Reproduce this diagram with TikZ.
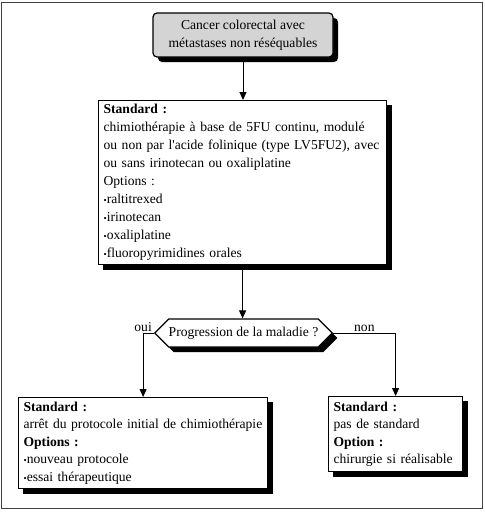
\documentclass[tikz,border=0pt]{standalone}
\usepackage{fontspec}
\setmainfont{Liberation Serif}
\usetikzlibrary{arrows.meta,shadows,shapes.symbols}
\newcommand{\bul}{{\fontsize{9}{9}\selectfont\textbullet}}
\begin{document}
\begin{tikzpicture}[x=1pt,y=-1pt,
  txt/.style={font=\fontsize{13.6}{18}\selectfont},
  txtb/.style={font=\fontsize{13.6}{17.4}\selectfont},
  shad/.style={drop shadow={shadow xshift=5pt,shadow yshift=-5pt,fill=black,opacity=1}},
  box/.style={draw=black,line width=1.2pt,fill=white,anchor=north west,align=left,
    inner xsep=5pt,inner ysep=1pt},
  shbox/.style={fill=black,draw=none,anchor=north west,inner sep=0pt,outer sep=0pt},
  arr/.style={line width=1pt,-{Triangle[length=8pt,width=7pt]}},
  lbl/.style={txt,inner sep=1pt}]
\useasboundingbox (0,0) rectangle (485,512);
\draw[line width=1.5pt,draw=black!75] (1.5,2.5) rectangle (482.5,508.5);
\node[txt,draw=black,line width=1.2pt,fill={rgb,255:red,212;green,212;blue,212},
  rounded corners=4pt,minimum width=180pt,minimum height=44pt,align=center,shad]
  (top) at (243,35) {Cancer colorectal avec\\métastases non réséquables};
% shadow nodes behind the rectangular boxes
\node[shbox,minimum width=289pt,minimum height=165pt] (stdsh) at (103,105) {};
\node[shbox,minimum width=250pt,minimum height=92pt] (ouish) at (23,402) {};
\node[shbox,minimum width=135pt,minimum height=76pt] (nonsh) at (333,401) {};
\node[box,txt,text width=278pt,minimum height=164pt] (std) at (98,100)
  {\textbf{Standard :}\\
   \mbox{chimiothérapie à base de 5FU continu, modulé}\\
   \mbox{ou non par l\textquotesingle acide folinique (type LV5FU2), avec}\\
   ou sans irinotecan ou oxaliplatine\\
   Options :\\
   \bul raltitrexed\\
   \bul irinotecan\\
   \bul oxaliplatine\\
   \bul fluoropyrimidines orales};
\node[txt,shape=signal,signal to=east and west,draw=black,line width=1.2pt,fill=white,
  minimum width=177pt,minimum height=28pt,inner sep=0pt,shad] (prog) at (243.5,333)
  {Progression de la maladie ?};
\node[box,txtb,text width=239pt,minimum height=91pt] (oui) at (18,397)
  {\textbf{Standard :}\\
   \mbox{arrêt du protocole initial de chimiothérapie}\\
   \textbf{Options :}\\
   \bul nouveau protocole\\
   \bul essai thérapeutique};
\node[box,txtb,text width=124pt,minimum height=75pt] (non) at (328,396)
  {\textbf{Standard :}\\
   pas de standard\\
   \textbf{Option :}\\
   \mbox{chirurgie si réalisable}};
\draw[arr] (top.south) -- (top.south |- std.north);
\draw[arr] (std.south) -- (std.south |- prog.north);
\draw[arr] (prog.west) -| node[lbl,pos=0.5,above] {oui} (oui.north);
\draw[arr] (prog.east) -| node[lbl,pos=0.25,above] {non} (non.north);
\end{tikzpicture}
\end{document}
